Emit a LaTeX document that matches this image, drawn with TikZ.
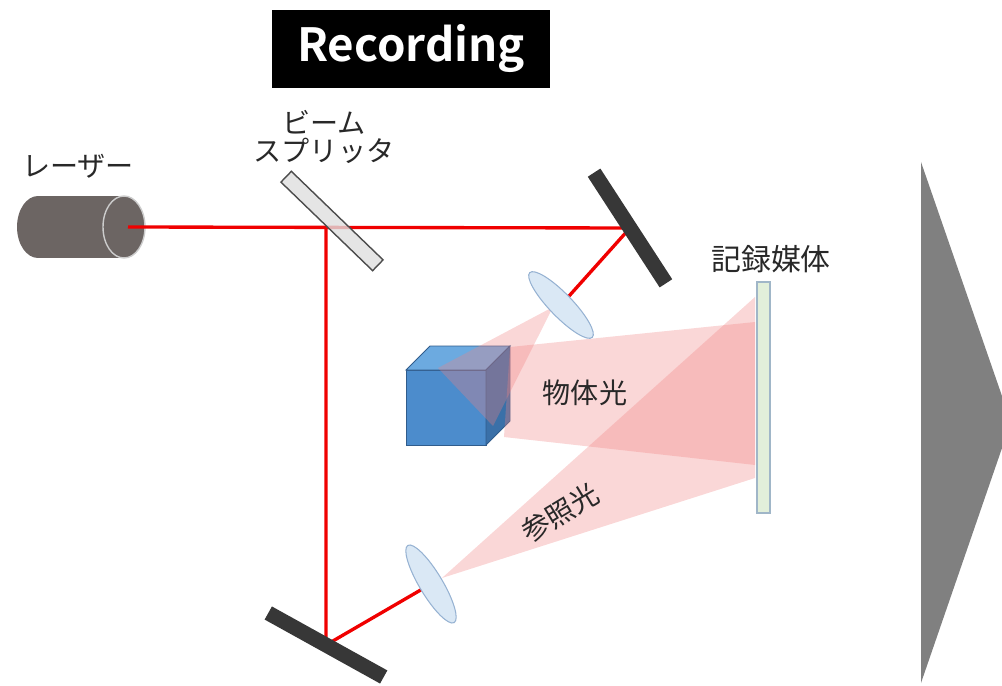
\documentclass[tikz,border=0pt]{standalone}
\usepackage{fontspec}
\setmainfont{Noto Sans CJK JP}
\newfontfamily\titlefont{Noto Sans CJK JP}[BoldFont={Noto Sans CJK JP Bold}]
\usetikzlibrary{shapes.geometric,positioning}
\definecolor{beamred}{RGB}{240,0,0}
\definecolor{lightpink}{RGB}{240,130,130}
\definecolor{mirrorgray}{RGB}{55,55,55}
\definecolor{lensblue}{RGB}{218,232,245}
\definecolor{lensedge}{RGB}{150,178,210}
\definecolor{lasergray}{RGB}{108,101,99}
\definecolor{textgray}{RGB}{40,40,40}
\definecolor{cubefront}{RGB}{76,140,204}
\definecolor{cubetop}{RGB}{108,170,224}
\definecolor{cubeside}{RGB}{58,112,168}
\definecolor{cubeedge}{RGB}{48,92,140}
\definecolor{platefill}{RGB}{226,239,218}
\definecolor{plateedge}{RGB}{160,182,200}
\definecolor{arrowgray}{RGB}{128,128,128}
\tikzset{
  beam/.style={draw=beamred, line width=1.9pt},
  light/.style={fill=lightpink, fill opacity=0.32},
  mirror/.style={rectangle, fill=mirrorgray, minimum width=2.64cm, minimum height=0.3cm, inner sep=0pt},
  splitter/.style={rectangle, fill=gray!25, fill opacity=0.8, draw=gray!140, line width=0.8pt, minimum width=2.55cm, minimum height=0.3cm, inner sep=0pt},
  lens/.style={ellipse, fill=lensblue, draw=lensedge, line width=0.6pt, minimum width=1.8cm, minimum height=0.46cm, inner sep=0pt},
  plate/.style={rectangle, fill=platefill, draw=plateedge, line width=0.6pt, minimum width=0.26cm, minimum height=4.62cm, inner sep=0pt},
  label/.style={text=textgray, font=\fontsize{16}{16}\selectfont, inner sep=0pt, align=center},
  title/.style={fill=black, text=white, font=\titlefont\bfseries\fontsize{26}{26}\selectfont, minimum width=5.56cm, minimum height=1.56cm}
}

\begin{document}
\begin{tikzpicture}[x=0.02cm, y=-0.02cm]
    \useasboundingbox (0,0) rectangle (1002,686);
    \node (rec) [title] at (411,49) {Recording};

    % laser
    \fill[lasergray] (38,196) rectangle (124,258);
    \fill[lasergray] (38,227) ellipse [x radius=0.42cm, y radius=0.62cm];
    \fill[lasergray] (124,227) ellipse [x radius=0.42cm, y radius=0.62cm];
    \draw[gray!40, line width=0.8pt] (124,227) ellipse [x radius=0.42cm, y radius=0.62cm];
    \node (laser) [label] at (78,166) {レーザー};

    \coordinate (out) at (128,227);
    \coordinate (split) at (326,227);
    \coordinate (m1) at (630,228);
    \coordinate (m2) at (326,645);
    \coordinate (l1) at (561,305);
    \coordinate (l2) at (431,584);

    % red laser beams
    \draw[beam] (out) -- (m1) -- (l1);
    \draw[beam] (split) -- (m2) -- (l2);

    % object
    \fill[cubefront, draw=cubeedge, line width=0.5pt] (406,370) rectangle (486,445);
    \fill[cubetop, draw=cubeedge, line width=0.5pt] (406,370) -- (430,346) -- (510,346) -- (486,370) -- cycle;
    \fill[cubeside, draw=cubeedge, line width=0.5pt] (486,370) -- (510,346) -- (510,421) -- (486,445) -- cycle;

    % light
    \fill[light] (553,307) -- (438,368) -- (493,426) -- cycle;
    \fill[light] (510,347) -- (755,322) -- (755,465) -- (504,437) -- cycle;
    \fill[light] (442,578) -- (755,297) -- (755,478) -- cycle;
    \node (obj) [label] at (585,393) {物体光};
    \node (ref) [label, rotate=31] at (560,513) {参照光};

    \node (bs) [splitter, rotate=-44] at (332,221) {};
    \node (bstext) [label] at (324,137) {ビーム\\スプリッタ};
    \node (mirrorA) [mirror, rotate=-57] at (m1) {};
    \node (mirrorB) [mirror, rotate=-29] at (m2) {};
    \node (lensA) [lens, rotate=-46] at (l1) {};
    \node (lensB) [lens, rotate=-59] at (l2) {};

    \node (medium) [plate] at (763.5,397.5) {};
    \node (mtext) [label, font=\fontsize{17}{17}\selectfont] at (771,259) {記録媒体};

    \fill[arrowgray] (921,162) -- (1011,422) -- (921,683) -- cycle;
\end{tikzpicture}
\end{document}
